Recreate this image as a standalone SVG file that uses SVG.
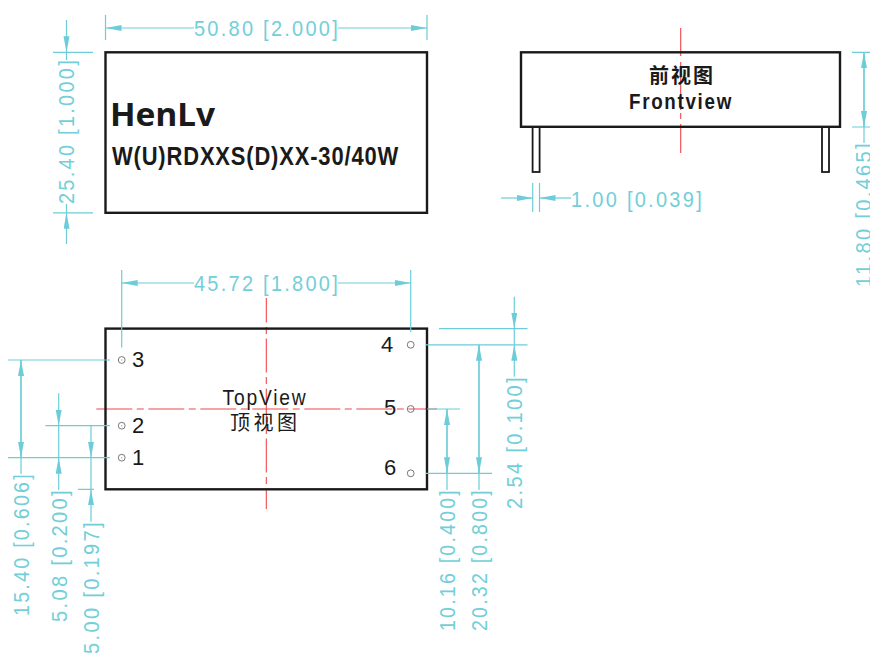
<svg xmlns="http://www.w3.org/2000/svg" width="870" height="653" viewBox="0 0 870 653">
<style>
.b{fill:none;stroke:#1a1a1a;stroke-width:2.4}
.p{fill:#fff;stroke:#1a1a1a;stroke-width:1.8}
.d{fill:none;stroke:#6ccdd8;stroke-width:1.2}
.c{fill:none;stroke:#f0474c;stroke-width:1.1}
.h{fill:#fff;stroke:#777;stroke-width:1}
.t{font-family:"Liberation Sans",Arial,sans-serif;font-size:22px;letter-spacing:2.5px;fill:#72cfd9}
.k{font-family:"Liberation Sans",Arial,sans-serif;fill:#1a1a1a}
.n{font-size:22px}
.z{font-family:"Noto Sans CJK SC",sans-serif;fill:#1a1a1a;font-size:20px}
</style>
<defs>
<marker id="a" markerUnits="userSpaceOnUse" markerWidth="17" markerHeight="8" refX="16" refY="3" orient="auto"><path d="M0 0L16 3L0 6Z" fill="#6ccdd8"/></marker>
</defs>
<rect width="870" height="653" fill="#fff"/>
<g id="centerlines">
<path class="c" d="M680.7 28V56M680.7 62V110M680.7 113V119M680.7 124V153"/>
<path class="c" d="M266.3 298V509" stroke-dasharray="34 4.5 7 4.5" stroke-dashoffset="9.5"/>
<path class="c" d="M96.3 409H437" stroke-dasharray="36 4.5 7 4.5"/>
</g>
<g id="top-package">
<rect class="b" x="105.5" y="52.3" width="321.5" height="160.5"/>
<text x="110" y="126" font-family="'Noto Sans',sans-serif" fill="#1a1a1a" font-size="33" font-weight="bold" textLength="105" lengthAdjust="spacingAndGlyphs">HenLv</text>
<text class="k" x="112" y="165" font-size="26" font-weight="bold" textLength="287" lengthAdjust="spacingAndGlyphs" letter-spacing="1">W(U)RDXXS(D)XX-30/40W</text>
</g>
<g id="front-package">
<rect class="p" x="532.6" y="127" width="7" height="45"/>
<rect class="p" x="822" y="127" width="7" height="45"/>
<rect class="b" x="521" y="52.3" width="319" height="74.5"/>
<text class="z" x="649" y="83" font-weight="bold" textLength="64">前视图</text>
<text class="k" x="629" y="109" font-size="22" font-weight="bold" letter-spacing="2" textLength="104" lengthAdjust="spacingAndGlyphs">Frontview</text>
</g>
<g id="bottom-package">
<rect class="b" x="105.5" y="328.6" width="321.5" height="160.7"/>
<text class="k" x="222.5" y="404.5" font-size="21.5" letter-spacing="2" textLength="85" lengthAdjust="spacingAndGlyphs">TopView</text>
<text class="z" x="230" y="430" textLength="67">顶视图</text>
</g>
<g id="pin-1"><circle class="h" cx="121.7" cy="457.7" r="3.4"/><circle cx="121.7" cy="457.7" r=".8" fill="#6ccdd8"/><text class="k n" x="132" y="464.5">1</text></g>
<g id="pin-2"><circle class="h" cx="121.7" cy="425.7" r="3.4"/><circle cx="121.7" cy="425.7" r=".8" fill="#6ccdd8"/><text class="k n" x="132" y="432.5">2</text></g>
<g id="pin-3"><circle class="h" cx="121.7" cy="360" r="3.4"/><circle cx="121.7" cy="360" r=".8" fill="#6ccdd8"/><text class="k n" x="132" y="367">3</text></g>
<g id="pin-4"><circle class="h" cx="410.7" cy="344.8" r="3.4"/><text class="k n" x="381" y="351.5">4</text></g>
<g id="pin-5"><circle class="h" cx="410.7" cy="409" r="3.4" fill-opacity="0"/><text class="k n" x="384" y="415">5</text></g>
<g id="pin-6"><circle class="h" cx="410.7" cy="473.3" r="3.4"/><text class="k n" x="384" y="475">6</text></g>
<g id="connectors">
<path class="d" d="M105.5 15V40M427 15V40M53 52.3H93M53 212.8H93"/>
<path class="d" d="M194 28H105.5" marker-end="url(#a)"/>
<path class="d" d="M338 28H427" marker-end="url(#a)"/>
<path class="d" d="M66.5 20V52.3" marker-end="url(#a)"/>
<path class="d" d="M66.5 60V52.3"/>
<path class="d" d="M66.5 244V212.8" marker-end="url(#a)"/>
<path class="d" d="M66.5 204V212.8"/>
<path class="d" d="M852 52.3H870M852 127H870"/>
<path class="d" d="M864 127V52.3" marker-end="url(#a)"/>
<path class="d" d="M864 52.3V127" marker-end="url(#a)"/>
<path class="d" d="M864 127V143"/>
<path class="d" d="M532.7 183V212M539.5 183V212"/>
<path class="d" d="M501 198H532.7" marker-end="url(#a)"/>
<path class="d" d="M571 198H539.5" marker-end="url(#a)"/>
<path class="d" d="M121.7 270V347.5M410.7 270V332"/>
<path class="d" d="M194 283H121.7" marker-end="url(#a)"/>
<path class="d" d="M338 283H410.7" marker-end="url(#a)"/>
<path class="d" d="M8 360H110M8 457.7H110M45.3 425.7H110M78 489.3H94"/>
<path class="d" d="M21 457.7V360" marker-end="url(#a)"/>
<path class="d" d="M21 360V457.7" marker-end="url(#a)"/>
<path class="d" d="M21 457.7V474"/>
<path class="d" d="M58.7 393.3V425.7" marker-end="url(#a)"/>
<path class="d" d="M58.7 490V457.7" marker-end="url(#a)"/>
<path class="d" d="M58.7 425.7V457.7"/>
<path class="d" d="M91 425.7V457.7" marker-end="url(#a)"/>
<path class="d" d="M91 521.7V489.3" marker-end="url(#a)"/>
<path class="d" d="M91 457.7V489.3"/>
<path class="d" d="M427 409H460M426 344.8H527.5M426 473.3H492M439 328.6H527.5"/>
<path class="d" d="M447 473.3V409" marker-end="url(#a)"/>
<path class="d" d="M447 409V473.3" marker-end="url(#a)"/>
<path class="d" d="M447 473.3V490"/>
<path class="d" d="M479 473.3V344.8" marker-end="url(#a)"/>
<path class="d" d="M479 344.8V473.3" marker-end="url(#a)"/>
<path class="d" d="M479 473.3V490"/>
<path class="d" d="M514.3 296.7V328.6" marker-end="url(#a)"/>
<path class="d" d="M514.3 376.7V344.8" marker-end="url(#a)"/>
<path class="d" d="M514.3 328.6V344.8"/>
</g>
<g id="dimension-labels">
<text class="t" x="194" y="35.5" textLength="146" lengthAdjust="spacingAndGlyphs">50.80 [2.000]</text>
<text class="t" transform="translate(74 204) rotate(-90)" textLength="146" lengthAdjust="spacingAndGlyphs">25.40 [1.000]</text>
<text class="t" transform="translate(871 287) rotate(-90)" textLength="146" lengthAdjust="spacingAndGlyphs">11.80 [0.465]</text>
<text class="t" x="571" y="207" textLength="133" lengthAdjust="spacingAndGlyphs">1.00 [0.039]</text>
<text class="t" x="194" y="290.5" textLength="146" lengthAdjust="spacingAndGlyphs">45.72 [1.800]</text>
<text class="t" transform="translate(29 616) rotate(-90)" textLength="144" lengthAdjust="spacingAndGlyphs">15.40 [0.606]</text>
<text class="t" transform="translate(66.7 622) rotate(-90)" textLength="134" lengthAdjust="spacingAndGlyphs">5.08 [0.200]</text>
<text class="t" transform="translate(99 654) rotate(-90)" textLength="134" lengthAdjust="spacingAndGlyphs">5.00 [0.197]</text>
<text class="t" transform="translate(455 631) rotate(-90)" textLength="143" lengthAdjust="spacingAndGlyphs">10.16 [0.400]</text>
<text class="t" transform="translate(487 631) rotate(-90)" textLength="143" lengthAdjust="spacingAndGlyphs">20.32 [0.800]</text>
<text class="t" transform="translate(522 509) rotate(-90)" textLength="134" lengthAdjust="spacingAndGlyphs">2.54 [0.100]</text>
</g>
</svg>
